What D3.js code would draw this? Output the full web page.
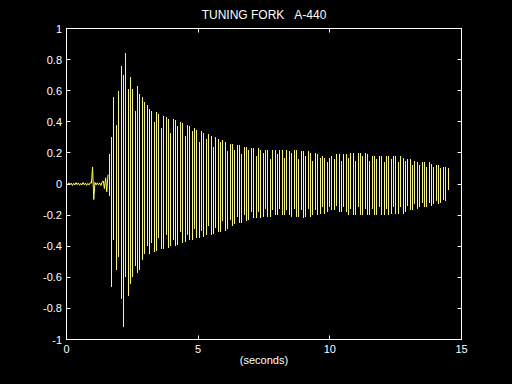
<!DOCTYPE html>
<html>
<head>
<meta charset="utf-8">
<script src="https://cdn.jsdelivr.net/npm/d3@7"></script>
<style>
  html, body { margin: 0; padding: 0; background: #000; }
  svg { display: block; }
  text { font-family: "Liberation Sans", Arial, Helvetica, sans-serif; fill: #fff; }
</style>
</head>
<body>
<svg id="chart" width="512" height="384"></svg>
<script>
// ---- data ----
const title = "TUNING FORK\u00a0\u00a0\u00a0A-440";
const xLabel = "(seconds)";
const xTickValues = [0, 5, 10, 15];
const xTickLabels = ["0", "5", "10", "15"];
const yTickValues = [-1, -0.8, -0.6, -0.4, -0.2, 0, 0.2, 0.4, 0.6, 0.8, 1];
const yTickLabels = ["-1", "-0.8", "-0.6", "-0.4", "-0.2", "0", "0.2", "0.4", "0.6", "0.8", "1"];

// quiet part before the strike (seconds 0 .. 1.575), one sample every 0.045 s
const quietStep = 0.045;
const quietValues = [
  0.004, -0.006, 0.008, -0.004, 0.006, -0.01, 0.005, -0.007, 0.009, -0.004,
  0.007, -0.008, 0.004, -0.006, 0.01, -0.005, 0.006, -0.009, 0.004, -0.006,
  0.008, 0.005, 0.11, -0.10, 0.01, -0.006, 0.008, -0.005, 0.007, -0.01,
  0.012, 0.02, -0.03, 0.04, -0.05, 0.06
];

// ringing part: per time bin, highest and lowest value of the trace
const ringStart = 1.62;
const binWidth = 0.09;
const binMax = [
  0.19, 0.30, 0.56, 0.38, 0.60, 0.76, 0.70, 0.84, 0.61, 0.69,
  0.61, 0.47, 0.63, 0.58, 0.56, 0.53, 0.51, 0.48, 0.47, 0.40,
  0.46, 0.45, 0.36, 0.44, 0.43, 0.42, 0.33, 0.42, 0.41, 0.37,
  0.40, 0.39, 0.31, 0.38, 0.37, 0.34, 0.36, 0.35, 0.27, 0.34,
  0.33, 0.29, 0.32, 0.31, 0.24, 0.30, 0.29, 0.27, 0.28, 0.27,
  0.21, 0.26, 0.26, 0.22, 0.25, 0.25, 0.19, 0.24, 0.24, 0.22,
  0.23, 0.23, 0.18, 0.23, 0.22, 0.20, 0.22, 0.22, 0.16, 0.22,
  0.22, 0.19, 0.22, 0.22, 0.17, 0.22, 0.21, 0.20, 0.22, 0.22,
  0.16, 0.21, 0.21, 0.18, 0.21, 0.20, 0.15, 0.20, 0.19, 0.17,
  0.18, 0.17, 0.14, 0.17, 0.18, 0.16, 0.19, 0.19, 0.15, 0.19,
  0.19, 0.17, 0.20, 0.20, 0.15, 0.20, 0.20, 0.18, 0.20, 0.19,
  0.15, 0.18, 0.18, 0.16, 0.18, 0.18, 0.14, 0.18, 0.18, 0.16,
  0.18, 0.18, 0.14, 0.18, 0.17, 0.15, 0.16, 0.16, 0.12, 0.15,
  0.14, 0.12, 0.14, 0.14, 0.11, 0.14, 0.13, 0.11, 0.12, 0.12,
  0.10, 0.11, 0.11, 0.10
];
const binMin = [
  -0.08, -0.66, -0.36, -0.55, -0.47, -0.74, -0.92, -0.60, -0.72, -0.64,
  -0.60, -0.53, -0.57, -0.55, -0.49, -0.45, -0.40, -0.45, -0.38, -0.44,
  -0.43, -0.35, -0.42, -0.42, -0.33, -0.41, -0.40, -0.36, -0.40, -0.39,
  -0.31, -0.38, -0.37, -0.33, -0.36, -0.36, -0.29, -0.35, -0.35, -0.30,
  -0.34, -0.33, -0.27, -0.33, -0.32, -0.28, -0.31, -0.31, -0.24, -0.30,
  -0.29, -0.23, -0.27, -0.26, -0.21, -0.25, -0.25, -0.20, -0.24, -0.23,
  -0.18, -0.22, -0.22, -0.18, -0.22, -0.21, -0.16, -0.21, -0.21, -0.17,
  -0.20, -0.20, -0.16, -0.20, -0.20, -0.17, -0.20, -0.21, -0.16, -0.21,
  -0.21, -0.17, -0.22, -0.21, -0.16, -0.21, -0.20, -0.17, -0.20, -0.19,
  -0.15, -0.19, -0.18, -0.15, -0.17, -0.17, -0.14, -0.18, -0.18, -0.15,
  -0.18, -0.20, -0.16, -0.20, -0.20, -0.15, -0.20, -0.20, -0.16, -0.20,
  -0.20, -0.16, -0.20, -0.20, -0.15, -0.20, -0.20, -0.16, -0.20, -0.19,
  -0.15, -0.19, -0.19, -0.15, -0.19, -0.18, -0.14, -0.17, -0.17, -0.13,
  -0.16, -0.15, -0.12, -0.15, -0.15, -0.12, -0.14, -0.13, -0.11, -0.13,
  -0.12, -0.10, -0.11, -0.04
];

// ---- layout ----
const svg = d3.select("#chart");
const W = 512, H = 384;
const traceColor = "#ffff40";
svg.append("rect").attr("width", W).attr("height", H).attr("fill", "#000");

const x = d3.scaleLinear().domain([0, 15]).range([66.5, 461.5]);
const y = d3.scaleLinear().domain([-1, 1]).range([339.5, 28.5]);
const snap = v => Math.round(v - 0.5) + 0.5;

// quiet trace
const quietLine = d3.line()
  .x((d, i) => x(i * quietStep))
  .y(d => y(d));
svg.append("path")
  .datum(quietValues)
  .attr("d", quietLine)
  .attr("fill", "none")
  .attr("stroke", traceColor)
  .attr("stroke-width", 1);

// ringing trace: one vertical stroke per bin from min to max
svg.append("g")
  .selectAll("line")
  .data(d3.range(binMax.length))
  .join("line")
  .attr("x1", k => snap(x(ringStart + k * binWidth)))
  .attr("x2", k => snap(x(ringStart + k * binWidth)))
  .attr("y1", k => y(binMax[k]))
  .attr("y2", k => y(binMin[k]))
  .attr("stroke", traceColor)
  .attr("stroke-width", 1)
  .attr("shape-rendering", "crispEdges");

// box
svg.append("rect")
  .attr("x", x(0)).attr("y", y(1))
  .attr("width", x(15) - x(0)).attr("height", y(-1) - y(1))
  .attr("fill", "none").attr("stroke", "#fff").attr("stroke-width", 1);

const tickLen = 4;
// x ticks (bottom & top, inward)
const xt = svg.append("g");
xTickValues.forEach((v, i) => {
  const px = snap(x(v));
  xt.append("line").attr("x1", px).attr("x2", px).attr("y1", y(-1)).attr("y2", y(-1) - tickLen).attr("stroke", "#fff");
  xt.append("line").attr("x1", px).attr("x2", px).attr("y1", y(1)).attr("y2", y(1) + tickLen).attr("stroke", "#fff");
  xt.append("text").attr("x", x(v)).attr("y", 353).attr("text-anchor", "middle")
    .attr("font-size", 11).text(xTickLabels[i]);
});
// y ticks (left & right, inward)
const yt = svg.append("g");
yTickValues.forEach((v, i) => {
  const py = snap(y(v));
  yt.append("line").attr("x1", x(0)).attr("x2", x(0) + tickLen).attr("y1", py).attr("y2", py).attr("stroke", "#fff");
  yt.append("line").attr("x1", x(15)).attr("x2", x(15) - tickLen).attr("y1", py).attr("y2", py).attr("stroke", "#fff");
  yt.append("text").attr("x", 62).attr("y", y(v) + 4).attr("text-anchor", "end")
    .attr("font-size", 11).text(yTickLabels[i]);
});

// title and label
svg.append("text").attr("x", (x(0) + x(15)) / 2).attr("y", 19).attr("text-anchor", "middle")
  .attr("font-size", 12).text(title);
svg.append("text").attr("x", (x(0) + x(15)) / 2).attr("y", 364).attr("text-anchor", "middle")
  .attr("font-size", 11).text(xLabel);
</script>
</body>
</html>
